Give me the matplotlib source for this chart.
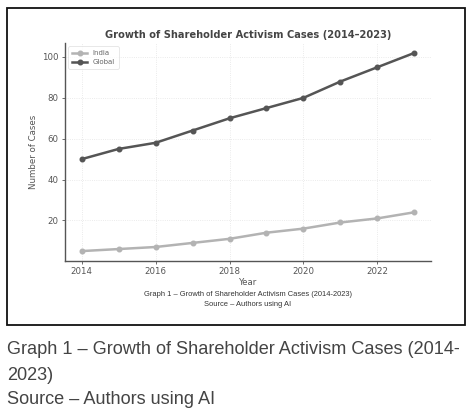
import matplotlib
matplotlib.use("Agg")
import matplotlib.pyplot as plt
from matplotlib.patches import Rectangle

years = [2014, 2015, 2016, 2017, 2018, 2019, 2020, 2021, 2022, 2023]
india = [5, 6, 7, 9, 11, 14, 16, 19, 21, 24]
global_cases = [50, 55, 58, 64, 70, 75, 80, 88, 95, 102]

title = "Growth of Shareholder Activism Cases (2014–2023)"
caption1 = "Graph 1 – Growth of Shareholder Activism Cases (2014-2023)"
caption2 = "Source – Authors using AI"

fig = plt.figure(figsize=(4.74, 4.11), dpi=100)
fig.patch.set_facecolor("white")

# outer frame
fig.add_artist(Rectangle((7 / 474, 1 - 325 / 411), (465 - 7) / 474, (325 - 8) / 411,
                         transform=fig.transFigure, fill=False, edgecolor="#111111",
                         linewidth=1.3))

ax = fig.add_axes([65 / 474, 1 - 261 / 411, (431 - 65) / 474, (261 - 43) / 411])
ax.plot(years, india, color="#b3b3b3", marker="o", markersize=3.3, linewidth=1.8, label="India")
ax.plot(years, global_cases, color="#555555", marker="o", markersize=3.3, linewidth=1.8, label="Global")

ax.set_title(title, fontsize=7.1, fontweight="bold", color="#444444", pad=3.5)
ax.set_xlabel("Year", fontsize=6.2, color="#555555", labelpad=1)
ax.set_ylabel("Number of Cases", fontsize=6.2, color="#555555", labelpad=3)
ax.set_xticks([2014, 2016, 2018, 2020, 2022])
ax.set_yticks([20, 40, 60, 80, 100])
ax.tick_params(labelsize=6.2, colors="#555555", length=2.5, width=0.6, pad=2)
ax.grid(True, color="#e4e4e4", linewidth=0.6, linestyle=":")
for s in ["top", "right"]:
    ax.spines[s].set_visible(False)
for s in ["left", "bottom"]:
    ax.spines[s].set_color("#555555")
    ax.spines[s].set_linewidth(1.0)

leg = ax.legend(loc="upper left", fontsize=5, frameon=True, borderpad=0.5,
                handlelength=2.2, labelspacing=0.5)
for t in leg.get_texts():
    t.set_color("#666666")
leg.get_frame().set_edgecolor("#dddddd")
leg.get_frame().set_linewidth(0.6)

fig.text(248 / 474, 1 - 294 / 411, caption1, fontsize=5.4, family="Liberation Sans",
         color="#333333", ha="center", va="center")
fig.text(248 / 474, 1 - 304 / 411, caption2, fontsize=5.4, family="Liberation Sans",
         color="#333333", ha="center", va="center")

big = dict(fontsize=13.1, family="Liberation Sans", color="#444444", ha="left", va="center")
fig.text(7 / 474, 1 - 350 / 411, "Graph 1 – Growth of Shareholder Activism Cases (2014-", **big)
fig.text(7 / 474, 1 - 375 / 411, "2023)", **big)
fig.text(7 / 474, 1 - 399 / 411, "Source – Authors using AI", **big)

fig.savefig("out.png", dpi=100, facecolor="white")
